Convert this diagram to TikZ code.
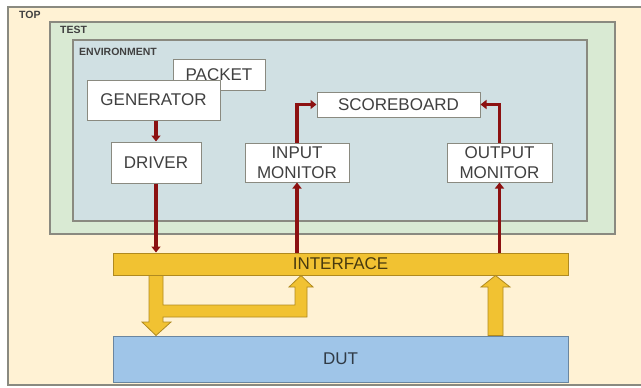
\documentclass[tikz,border=0pt]{standalone}
\usepackage{fontspec}
\setmainfont{Liberation Sans}
\usetikzlibrary{arrows.meta}
\definecolor{topfill}{HTML}{FFF2D4}
\definecolor{testfill}{HTML}{D9EAD3}
\definecolor{envfill}{HTML}{D0E0E3}
\definecolor{frameline}{HTML}{8A8A80}
\definecolor{ifcfill}{HTML}{F1C232}
\definecolor{ifcline}{HTML}{B08A20}
\definecolor{dutfill}{HTML}{9FC5E8}
\definecolor{dutline}{HTML}{6A86A0}
\definecolor{sigred}{HTML}{8C1111}
\definecolor{boxtext}{HTML}{404040}

\tikzset{
  frame/.style={draw=frameline, line width=1.2pt},
  framelabel/.style={anchor=west, inner sep=0, font=\bfseries\fontsize{10.5}{12}\selectfont, text=boxtext},
  block/.style={draw=frameline, fill=white, line width=1pt, inner sep=0, align=center,
    text=boxtext, font=\fontsize{17}{20}\selectfont},
  sigarrow/.style={draw=sigred, line width=3.6pt, -{Triangle[width=9pt,length=6pt]}},
  datapath/.style={fill=ifcfill, draw=ifcline, line width=0.8pt, line join=miter}
}

\begin{document}
\begin{tikzpicture}[x=1pt,y=-1pt]
    \useasboundingbox (0,0) rectangle (641,388);
    % nested frames
    \fill[white] (0,0) rectangle (641,388);
    \draw[frame, fill=topfill] (8,7) rectangle (648,385);
    \draw[frame, fill=testfill] (50,22) rectangle (615,234);
    \draw[frame, fill=envfill] (73,40) rectangle (587,221);
    \node[framelabel] (toplbl) at (19,15) {TOP};
    \node[framelabel] (testlbl) at (60,30) {TEST};
    \node[framelabel] (envlbl) at (79,52) {ENVIRONMENT};

    % environment blocks
    \node[block, minimum width=92pt, minimum height=31pt] (pkt) at (219,74.5) {PACKET};
    \node[block, minimum width=133pt, minimum height=40pt] (gen) at (153.5,100) {GENERATOR};
    \node[block, minimum width=90pt, minimum height=41pt] (drv) at (156,162.5) {DRIVER};
    \node[block, minimum width=104pt, minimum height=39pt] (inmon) at (297,162.5) {INPUT\\MONITOR};
    \node[block, minimum width=105pt, minimum height=39pt] (outmon) at (499.5,162.5) {OUTPUT\\MONITOR};
    \node[block, minimum width=163pt, minimum height=25pt] (sb) at (398.5,104.5) {SCOREBOARD};

    % interface and dut
    \node[block, fill=ifcfill, draw=ifcline, text=black!70!ifcfill, minimum width=455pt, minimum height=22pt] (ifc) at (340.5,264) {INTERFACE};
    \node[block, fill=dutfill, draw=dutline, text=black!70!dutfill, minimum width=455pt, minimum height=46pt] (dut) at (340.5,359) {DUT};

    % signals
    \draw[sigarrow] (drv.north |- gen.south) -- (drv.north);
    \draw[sigarrow] (drv.south) -- (drv.south |- ifc.north);
    \draw[sigarrow] (inmon.south |- ifc.north) -- (inmon.south);
    \draw[sigarrow] (outmon.south |- ifc.north) -- (outmon.south);
    \draw[sigarrow] (inmon.north) |- (sb.west);
    \draw[sigarrow] (outmon.north) |- (sb.east);

    % data paths between interface and dut
    \draw[datapath] (149,0 |- ifc.south) -- (149,322) -- (142,322) -- (156,0 |- dut.north)
      -- (171,322) -- (163,322) -- (163,317) -- (307,317) -- (307,287) -- (313,287)
      -- (301,0 |- ifc.south) -- (289,287) -- (295,287) -- (295,305) -- (163,305)
      -- (163,0 |- ifc.south) -- cycle;
    \draw[datapath] (488,0 |- dut.north) -- (488,287) -- (481,287) -- (495.5,0 |- ifc.south)
      -- (510,287) -- (503,287) -- (503,0 |- dut.north) -- cycle;
\end{tikzpicture}
\end{document}
